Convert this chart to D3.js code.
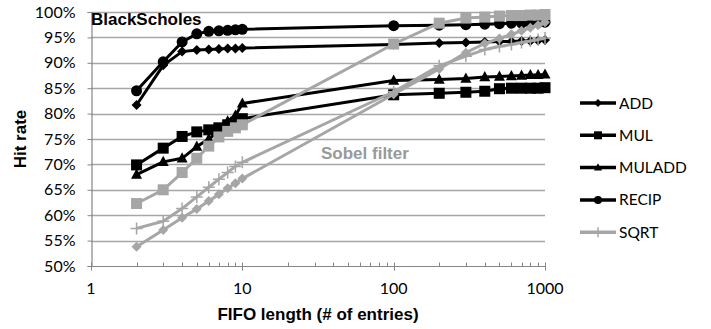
<!DOCTYPE html>
<html>
<head>
<meta charset="utf-8">
<script src="https://cdn.jsdelivr.net/npm/d3@7"></script>
<style>
	body { margin: 0; background: #fff; }
	svg { display: block; }
</style>
</head>
<body>
<svg id="chart" width="711" height="329"></svg>
<script>
// FIFO lengths (x values)
const fifoLengths = [2, 3, 4, 5, 6, 7, 8, 9, 10, 100, 200, 300, 400, 500, 600, 700, 800, 900, 1000]

// BlackScholes hit rates (%)
const bsAdd = [81.7, 89.5, 92.2, 92.5, 92.6, 92.7, 92.8, 92.8, 92.9, 93.6, 93.9, 94.0, 94.1, 94.2, 94.2, 94.3, 94.3, 94.4, 94.5]
const bsMul = [69.9, 73.2, 75.5, 76.4, 76.8, 77.2, 77.8, 78.3, 79.0, 83.7, 84.0, 84.2, 84.4, 84.9, 85.0, 85.0, 85.0, 85.0, 85.1]
const bsMulAdd = [68.0, 70.5, 71.2, 73.5, 75.0, 76.5, 78.5, 79.6, 82.0, 86.5, 86.7, 86.9, 87.2, 87.3, 87.4, 87.5, 87.6, 87.6, 87.7]
const bsRecip = [84.5, 90.2, 94.1, 95.7, 96.2, 96.3, 96.4, 96.5, 96.6, 97.3, 97.4, 97.5, 97.6, 97.7, 97.8, 97.8, 97.9, 97.9, 98.0]

// Sobel filter hit rates (%)
const sobAdd = [53.8, 57.1, 59.5, 61.2, 62.8, 64.1, 65.3, 66.3, 67.2, 83.8, 88.8, 92.0, 93.8, 94.8, 95.6, 96.3, 96.9, 97.4, 98.0]
const sobMul = [62.3, 65.0, 68.4, 71.2, 73.6, 75.4, 76.5, 77.2, 77.8, 93.7, 97.8, 98.8, 99.0, 99.2, 99.3, 99.3, 99.4, 99.4, 99.5]
const sobSqrt = [57.4, 58.8, 61.3, 63.6, 65.5, 67.1, 68.4, 69.6, 70.4, 84.3, 89.4, 91.3, 92.6, 93.2, 93.6, 94.0, 94.3, 94.6, 94.9]

const yTicks = [50, 55, 60, 65, 70, 75, 80, 85, 90, 95, 100]
const xTicks = [1, 10, 100, 1000]
const legendItems = [
	{name: "ADD", marker: "diamond", color: "#000"},
	{name: "MUL", marker: "square", color: "#000"},
	{name: "MULADD", marker: "triangle", color: "#000"},
	{name: "RECIP", marker: "circle", color: "#000"},
	{name: "SQRT", marker: "plus", color: "#a6a6a6"},
]

const BLACK = "#000"
const GRAY = "#a6a6a6"
const series = [
	{values: bsAdd, marker: "diamond", color: BLACK},
	{values: bsMul, marker: "square", color: BLACK},
	{values: bsMulAdd, marker: "triangle", color: BLACK},
	{values: bsRecip, marker: "circle", color: BLACK},
	{values: sobAdd, marker: "diamond", color: GRAY},
	{values: sobMul, marker: "square", color: GRAY},
	{values: sobSqrt, marker: "plus", color: GRAY},
]

const margin = {top: 12, left: 91, right: 166, bottom: 63}
const width = 711 - margin.left - margin.right
const height = 329 - margin.top - margin.bottom
const bodyFont = "Lato, 'Open Sans', sans-serif"
const boldFont = "'Liberation Sans', Arial, sans-serif"

const svg = d3.select("#chart")
const g = svg.append("g").attr("transform", "translate(" + margin.left + "," + margin.top + ")")

const x = d3.scaleLog().domain([1, 1000]).range([0, width])
const y = d3.scaleLinear().domain([50, 100]).range([height, 0])

// gridlines
g.append("g").selectAll("line")
	.data(yTicks.filter(d => d > 50))
	.join("line")
	.attr("x1", 0).attr("x2", width)
	.attr("y1", d => Math.round(y(d)) + 0.5).attr("y2", d => Math.round(y(d)) + 0.5)
	.attr("stroke", "#a6a6a6").attr("stroke-width", 1.3)

// y axis
const yAxis = g.append("g")
	.attr("transform", "translate(0.5,0)")
	.call(d3.axisLeft(y).tickValues(yTicks).tickSize(4).tickPadding(12).tickFormat(d => d + "%"))
yAxis.select(".domain").attr("stroke", "#868686").attr("stroke-width", 1.2)
yAxis.selectAll(".tick line").attr("stroke", "#868686")
yAxis.selectAll("text").attr("font-family", bodyFont).attr("font-size", 16).attr("fill", "#000")

// x axis
const xAxis = g.append("g")
	.attr("transform", "translate(0," + (Math.round(height) + 0.5) + ")")
xAxis.append("line").attr("x1", 0).attr("x2", width).attr("stroke", "#868686").attr("stroke-width", 1.2)
const minorTicks = []
for (let dec = 1; dec < 1000; dec *= 10) {
	for (let k = 2; k <= 9; k++) minorTicks.push(dec * k)
}
xAxis.selectAll(".minor").data(minorTicks).join("line")
	.attr("class", "minor")
	.attr("x1", d => Math.round(x(d)) + 0.5).attr("x2", d => Math.round(x(d)) + 0.5)
	.attr("y1", -4).attr("y2", 0)
	.attr("stroke", "#868686")
xAxis.selectAll(".major").data(xTicks).join("line")
	.attr("class", "major")
	.attr("x1", d => Math.round(x(d)) + 0.5).attr("x2", d => Math.round(x(d)) + 0.5)
	.attr("y1", -4).attr("y2", 4)
	.attr("stroke", "#868686")
xAxis.selectAll(".lbl").data(xTicks).join("text")
	.attr("class", "lbl")
	.attr("x", d => x(d)).attr("y", 27)
	.attr("text-anchor", "middle")
	.attr("font-family", bodyFont).attr("font-size", 16)
	.text(d => d)

// axis titles
svg.append("text")
	.attr("transform", "translate(26," + (margin.top + height / 2) + ") rotate(-90)")
	.attr("text-anchor", "middle")
	.attr("font-family", boldFont).attr("font-weight", "bold").attr("font-size", 17)
	.text("Hit rate")
svg.append("text")
	.attr("x", margin.left + width / 2).attr("y", 320)
	.attr("text-anchor", "middle")
	.attr("font-family", boldFont).attr("font-weight", "bold").attr("font-size", 17)
	.text("FIFO length (# of entries)")

function drawMarker(sel, type, color, s) {
	if (type === "diamond") {
		sel.append("path").attr("d", `M0,${-s}L${s},0L0,${s}L${-s},0Z`).attr("fill", color)
	} else if (type === "square") {
		sel.append("rect").attr("x", -s).attr("y", -s).attr("width", 2 * s).attr("height", 2 * s).attr("fill", color)
	} else if (type === "triangle") {
		sel.append("path").attr("d", `M0,${-s * 1.1}L${s},${s * 0.75}L${-s},${s * 0.75}Z`).attr("fill", color)
	} else if (type === "circle") {
		sel.append("circle").attr("r", s).attr("fill", color)
	} else if (type === "plus") {
		sel.append("path").attr("d", `M${-s},0H${s}M0,${-s}V${s}`).attr("stroke", color).attr("stroke-width", 1.5).attr("fill", "none")
	}
}

const markerSize = {diamond: 5, square: 5.5, triangle: 5.5, circle: 5.5, plus: 6}

const line = d3.line()
	.x(d => x(d[0]))
	.y(d => y(d[1]))

series.forEach(s => {
	const pts = fifoLengths.map((f, i) => [f, s.values[i]])
	g.append("path")
		.datum(pts)
		.attr("fill", "none")
		.attr("stroke", s.color)
		.attr("stroke-width", 3)
		.attr("stroke-linejoin", "round")
		.attr("d", line)
	g.append("g").selectAll("g")
		.data(pts)
		.join("g")
		.attr("transform", d => "translate(" + x(d[0]) + "," + y(d[1]) + ")")
		.each(function() { drawMarker(d3.select(this), s.marker, s.color, markerSize[s.marker]) })
})

// series group labels
svg.append("text")
	.attr("x", 91).attr("y", 25)
	.attr("font-family", boldFont).attr("font-weight", "bold").attr("font-size", 17)
	.text("BlackScholes")
svg.append("text")
	.attr("x", 321).attr("y", 159)
	.attr("fill", "#999")
	.attr("font-family", boldFont).attr("font-weight", "bold").attr("font-size", 17)
	.text("Sobel filter")

// legend
const legend = svg.append("g").attr("transform", "translate(580,103)")
legendItems.forEach((item, i) => {
	const row = legend.append("g").attr("transform", "translate(0," + i * 32.3 + ")")
	row.append("line").attr("x1", 0).attr("x2", 36).attr("stroke", item.color).attr("stroke-width", 3.5)
	const m = row.append("g").attr("transform", "translate(18,0)")
	drawMarker(m, item.marker, item.color, item.marker === "plus" ? 5 : 4)
	row.append("text")
		.attr("x", 39).attr("y", 5.5)
		.attr("font-family", bodyFont).attr("font-size", 15.5)
		.text(item.name)
})
</script>
</body>
</html>
